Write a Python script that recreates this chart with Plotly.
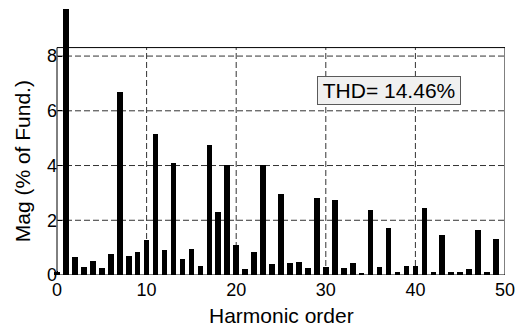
import plotly.graph_objects as go

# ---- data ----
harmonic_order = list(range(0, 50))
magnitude_pct = [
    0.12, 100.0, 0.64, 0.28, 0.52, 0.24, 0.78, 6.70, 0.71, 0.85,
    1.27, 5.17, 0.90, 4.08, 0.57, 0.94, 0.32, 4.76, 2.29, 4.01,
    1.11, 0.21, 0.85, 4.01, 0.41, 2.97, 0.45, 0.49, 0.24, 2.82,
    0.28, 2.75, 0.24, 0.45, 0.09, 2.38, 0.28, 1.73, 0.12, 0.34,
    0.34, 2.46, 0.12, 1.47, 0.12, 0.12, 0.23, 1.65, 0.12, 1.33,
]
x_ticks = [0, 10, 20, 30, 40, 50]
y_ticks = [0, 2, 4, 6, 8]
thd_text = "THD= 14.46%"
x_title = "Harmonic order"
y_title = "Mag (% of Fund.)"

# axes box limits (data units)
X_MIN, X_MAX = 0, 50
Y_MIN, Y_BOX = 0, 8.31
Y_VIEW = 9.72

FONT = "Liberation Sans, Arial, sans-serif"

fig = go.Figure()
fig.add_trace(go.Bar(
    x=harmonic_order, y=magnitude_pct, width=0.63,
    marker=dict(color="black", line=dict(width=0)),
    showlegend=False,
))

shapes = []
# dashed grid
for yv in y_ticks[1:]:
    shapes.append(dict(type="line", xref="x", yref="y", x0=X_MIN, x1=X_MAX, y0=yv, y1=yv,
                       line=dict(color="#333333", width=1, dash="6px,3px"), layer="below"))
for xv in x_ticks[1:-1]:
    shapes.append(dict(type="line", xref="x", yref="y", x0=xv, x1=xv, y0=Y_MIN, y1=Y_BOX,
                       line=dict(color="#333333", width=1, dash="6px,3px"), layer="below"))
# axes box
for (x0, y0, x1, y1) in [(X_MIN, Y_BOX, X_MAX, Y_BOX), (X_MAX, Y_MIN, X_MAX, Y_BOX),
                         (X_MIN, Y_MIN, X_MIN, Y_BOX), (X_MIN, Y_MIN, X_MAX, Y_MIN)]:
    shapes.append(dict(type="line", xref="x", yref="y", x0=x0, x1=x1, y0=y0, y1=y1,
                       line=dict(color="black", width=1), layer="above"))

L, R, T, B = 54, 23, 9, 56
plot_w = 528 - L - R
x_lo = X_MIN - (57 - L) * (X_MAX - X_MIN) / (505 - 57)

fig.update_layout(
    width=528, height=331,
    margin=dict(l=L, r=R, t=T, b=B, pad=0),
    paper_bgcolor="white", plot_bgcolor="white",
    font=dict(family=FONT, color="black", size=18),
    bargap=0,
    shapes=shapes,
    xaxis=dict(range=[x_lo, X_MAX], tickvals=x_ticks, ticks="inside", ticklen=4,
               tickcolor="black", showgrid=False, zeroline=False, showline=False,
               ticklabelstandoff=2, tickfont=dict(size=18)),
    yaxis=dict(range=[Y_MIN, Y_VIEW], tickvals=y_ticks, ticks="inside", ticklen=4,
               tickcolor="black", showgrid=False, zeroline=False, showline=False,
               anchor="free", position=(57 - L) / plot_w,
               tickfont=dict(size=18)),
    annotations=[
        dict(text=thd_text, xref="x", yref="y", x=37.06, y=6.74, showarrow=False,
             font=dict(size=21, family=FONT), bgcolor="#f0f0f0", bordercolor="#5a5a5a",
             borderwidth=1, borderpad=1, width=140, height=25),
        dict(text=x_title, xref="x", yref="paper", x=25, y=0, yanchor="middle",
             yshift=-40, showarrow=False, font=dict(size=21, family=FONT)),
        dict(text=y_title, xref="paper", yref="y", x=0, y=Y_BOX / 2, xanchor="center",
             xshift=22 - L, textangle=-90, showarrow=False, font=dict(size=21, family=FONT)),
    ],
)

fig.write_html("out.html")
